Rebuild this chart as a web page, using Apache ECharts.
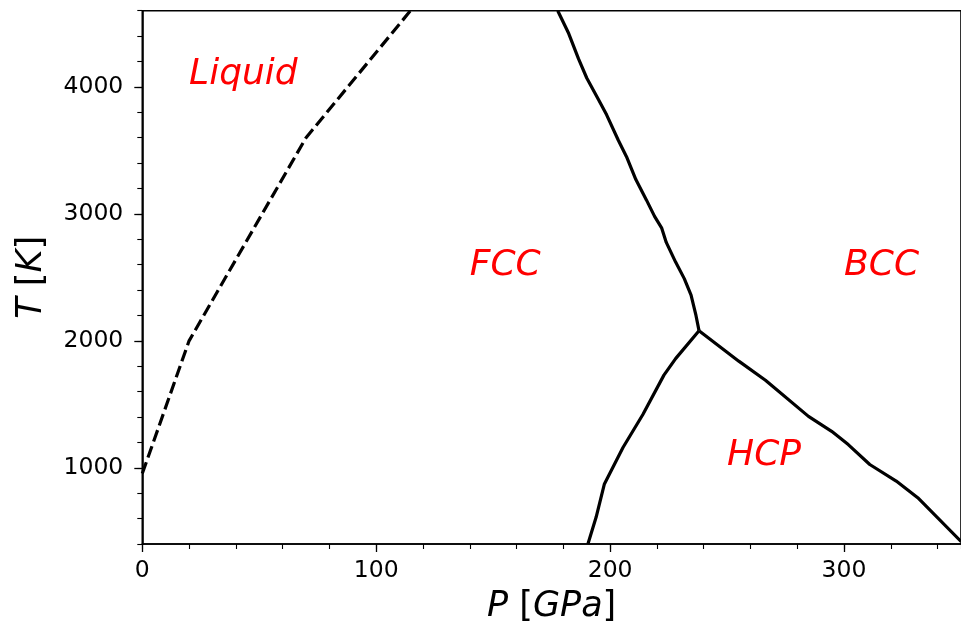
<!DOCTYPE html>
<html>
<head>
<meta charset="utf-8">
<script src="https://cdn.jsdelivr.net/npm/echarts@6/dist/echarts.min.js"></script>
<style>
html,body{margin:0;padding:0;background:#fff;}
#chart{width:961px;height:629px;}
</style>
</head>
<body>
<div id="chart"></div>
<script>
// Phase boundaries: [P (GPa), T (K)]
const liquidLine = [[0, 955], [20, 2000], [70, 3600], [120, 4720]];
const fccBccLine = [[177.6, 4600], [182.3, 4420], [186.5, 4220], [190, 4070], [195, 3900], [198.5, 3780], [203.5, 3580], [207, 3450], [211, 3270], [215.5, 3110], [219, 2980], [222, 2890], [224, 2775], [228, 2620], [231.7, 2490], [234.6, 2360], [236.7, 2200], [238, 2080]];
const fccHcpLine = [[190.5, 400], [194, 610], [197.5, 870], [205.5, 1160], [214, 1420], [223, 1730], [228, 1860], [238, 2080]];
const hcpBccLine = [[238, 2080], [255, 1840], [266.4, 1690], [284.8, 1405], [294.7, 1287], [301.8, 1183], [311, 1026], [322.3, 896], [331.5, 765], [350, 420]];
// Phase labels: text and anchor (left, baseline) in data coords
const phaseNames = ['Liquid', 'FCC', 'BCC', 'HCP'];
const phaseP = [20, 140, 300, 250];
const phaseT = [4000, 2500, 2500, 1000];
// Axis ranges / ticks
const xMin = 0, xMax = 350, xMajor = 100, xMinor = 20;
const yMin = 400, yMax = 4600, yMinor = 200;

const FONT = 'DejaVu Sans';
const chart = echarts.init(document.getElementById('chart'), null, {renderer: 'canvas'});

const labelData = phaseNames.map((n, i) => ({name: n, value: [phaseP[i], phaseT[i]]}));

const option = {
  animation: false,
  backgroundColor: '#fff',
  grid: {left: 142.3, top: 10.7, right: -6, bottom: 82.3, show: true, borderColor: '#000', borderWidth: 1.6, containLabel: false},
  xAxis: [
    {
      type: 'value', position: 'bottom', min: xMin, max: xMax, interval: xMajor,
      axisLine: {show: true, lineStyle: {color: '#000', width: 1.6}},
      axisTick: {show: true, inside: false, length: 8, lineStyle: {color: '#000', width: 1.3}},
      axisLabel: {show: true, color: '#000', fontFamily: FONT, fontSize: 23.5, margin: 15, showMaxLabel: false,
                  formatter: v => String(v)},
      splitLine: {show: false},
      name: '{i|P} [{i|GPa}]', nameLocation: 'middle', nameGap: 45,
      nameTextStyle: {color: '#000', fontFamily: FONT, fontSize: 35, rich: {i: {fontStyle: 'italic', fontFamily: FONT, fontSize: 35, color: '#000'}}}
    },
    {
      type: 'value', position: 'bottom', min: xMin, max: xMax, interval: xMinor,
      axisLine: {show: false},
      axisTick: {show: true, inside: false, length: 5, lineStyle: {color: '#000', width: 1.1}},
      axisLabel: {show: false}, splitLine: {show: false}
    }
  ],
  yAxis: [
    {
      type: 'value', position: 'left', min: yMin, max: yMax, splitNumber: 5,
      axisLine: {show: true, lineStyle: {color: '#000', width: 1.6}},
      axisTick: {show: true, inside: false, length: 8, lineStyle: {color: '#000', width: 1.3}},
      axisLabel: {show: true, color: '#000', fontFamily: FONT, fontSize: 23.5, margin: 19, showMinLabel: false, showMaxLabel: false,
                  formatter: v => String(v)},
      splitLine: {show: false},
      name: '{i|T} [{i|K}]', nameLocation: 'middle', nameGap: 93, nameRotate: 90,
      nameTextStyle: {color: '#000', fontFamily: FONT, fontSize: 35, rich: {i: {fontStyle: 'italic', fontFamily: FONT, fontSize: 35, color: '#000'}}}
    },
    {
      type: 'value', position: 'left', min: yMin, max: yMax, interval: yMinor,
      axisLine: {show: false},
      axisTick: {show: true, inside: false, length: 5, lineStyle: {color: '#000', width: 1.1}},
      axisLabel: {show: false}, splitLine: {show: false}
    }
  ],
  series: [
    {type: 'line', data: liquidLine, showSymbol: false, symbol: 'none', clip: true,
     lineStyle: {color: '#000', width: 3.2, type: [12, 5]}},
    {type: 'line', data: fccBccLine, showSymbol: false, symbol: 'none', clip: true,
     lineStyle: {color: '#000', width: 3.2}},
    {type: 'line', data: fccHcpLine, showSymbol: false, symbol: 'none', clip: true,
     lineStyle: {color: '#000', width: 3.2}},
    {type: 'line', data: hcpBccLine, showSymbol: false, symbol: 'none', clip: true,
     lineStyle: {color: '#000', width: 3.2}},
    {type: 'scatter', data: labelData, symbolSize: 0, silent: true, itemStyle: {opacity: 1},
     label: {show: true, position: [0, 0], align: 'left', verticalAlign: 'middle', offset: [0, -12], opacity: 1,
             formatter: p => p.name, color: '#ff0000', fontFamily: FONT, fontStyle: 'italic', fontSize: 36}}
  ]
};
chart.setOption(option);
</script>
</body>
</html>
